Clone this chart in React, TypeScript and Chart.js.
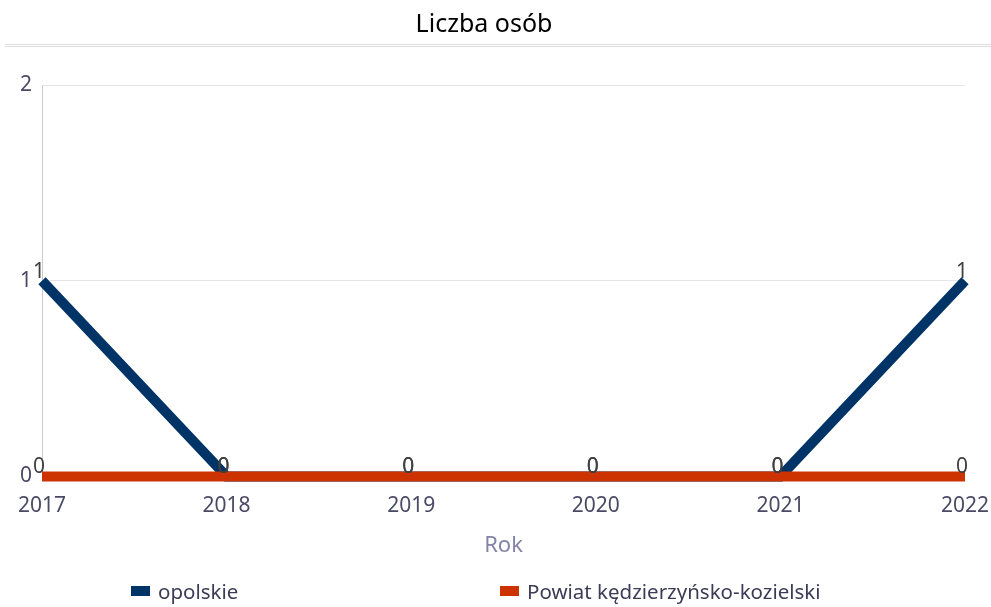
import React, { useEffect, useRef } from "react";
import { Chart, registerables } from "chart.js";

Chart.register(...registerables);

const years = ["2017", "2018", "2019", "2020", "2021", "2022"];
const opolskie = [1, 0, 0, 0, 0, 1];
const powiat = [0, 0, 0, 0, 0, 0];
const seriesNames = ["opolskie", "Powiat kędzierzyńsko-kozielski"];
const seriesColors = ["#003366", "#CC3300"];
const yTicks = [0, 1, 2];
const chartTitle = "Liczba osób";

const FONT = "'Noto Sans', sans-serif";

const headerPlugin = {
  id: "header",
  afterDraw(chart: any) {
    const ctx = chart.ctx;
    ctx.save();
    ctx.font = `25px ${FONT}`;
    ctx.fillStyle = "#000";
    ctx.textAlign = "center";
    ctx.textBaseline = "middle";
    ctx.fillText(chartTitle, 484, 25);
    ctx.strokeStyle = "#dcdce4";
    ctx.lineWidth = 1;
    [44.5, 46.5].forEach((y) => {
      ctx.beginPath();
      ctx.moveTo(5, y);
      ctx.lineTo(chart.width, y);
      ctx.stroke();
    });
    ctx.restore();
  },
};

const valueLabelPlugin = {
  id: "valueLabels",
  afterDatasetsDraw(chart: any) {
    const ctx = chart.ctx;
    ctx.save();
    ctx.font = `21px ${FONT}`;
    ctx.fillStyle = "#404040";
    ctx.textAlign = "center";
    ctx.textBaseline = "alphabetic";
    chart.data.datasets.forEach((ds: any, i: number) => {
      const meta = chart.getDatasetMeta(i);
      meta.data.forEach((pt: any, j: number) => {
        ctx.fillText(String(ds.data[j]), pt.x - 3, pt.y - 3);
      });
    });
    ctx.restore();
  },
};

export default function App() {
  const ref = useRef<HTMLCanvasElement>(null);
  useEffect(() => {
    document.body.style.margin = "0";
    const chart = new Chart(ref.current!, {
      type: "line",
      data: {
        labels: years,
        datasets: [
          {
            label: seriesNames[0],
            data: opolskie,
            borderColor: seriesColors[0],
            backgroundColor: seriesColors[0],
            borderWidth: 10,
            pointRadius: 0,
            tension: 0,
            order: 1,
            clip: false,
          },
          {
            label: seriesNames[1],
            data: powiat,
            borderColor: seriesColors[1],
            backgroundColor: seriesColors[1],
            borderWidth: 10,
            pointRadius: 0,
            tension: 0,
            order: 0,
            clip: false,
          },
        ],
      },
      options: {
        animation: false,
        responsive: false,
        layout: { padding: { left: 10, right: 2, bottom: 48, top: 85 } },
        plugins: {
          legend: { display: false },
          tooltip: { enabled: false },
          title: { display: false },
        },
        scales: {
          x: {
            offset: false,
            grid: { display: false },
            border: { display: false },
            afterFit: (axis: any) => {
              axis.paddingRight = 26;
            },
            ticks: {
              color: "#4a4a66",
              font: { family: FONT, size: 21 },
              padding: 9,
              maxRotation: 0,
            },
            title: {
              display: true,
              text: "Rok",
              color: "#8484a8",
              font: { family: FONT, size: 22 },
              padding: { top: 5, bottom: 0 },
            },
          },
          y: {
            min: yTicks[0],
            max: yTicks[yTicks.length - 1],
            afterBuildTicks: (axis: any) => {
              axis.ticks = yTicks.map((v) => ({ value: v }));
            },
            grid: { color: "#e4e4ea", drawTicks: false },
            border: { display: true, color: "#c8c8d8" },
            ticks: {
              color: "#4a4a66",
              font: { family: FONT, size: 21 },
              padding: 10,
            },
          },
        },
      },
      plugins: [headerPlugin, valueLabelPlugin],
    });
    return () => chart.destroy();
  }, []);

  return (
    <div style={{ position: "relative", width: 991, height: 607 }}>
      <canvas ref={ref} width={991} height={607} />
      <div
        style={{
          position: "absolute",
          top: 577,
          left: 131,
          width: 860,
          display: "flex",
          fontFamily: FONT,
          fontSize: 20.5,
          color: "#3c3c58",
        }}
      >
        {seriesNames.map((n, i) => (
          <div
            key={n}
            style={{ width: 369, display: "flex", alignItems: "center" }}
          >
            <span
              style={{
                display: "inline-block",
                width: 19,
                height: 10,
                background: seriesColors[i],
                marginRight: 8,
              }}
            />
            <span>{n}</span>
          </div>
        ))}
      </div>
    </div>
  );
}
